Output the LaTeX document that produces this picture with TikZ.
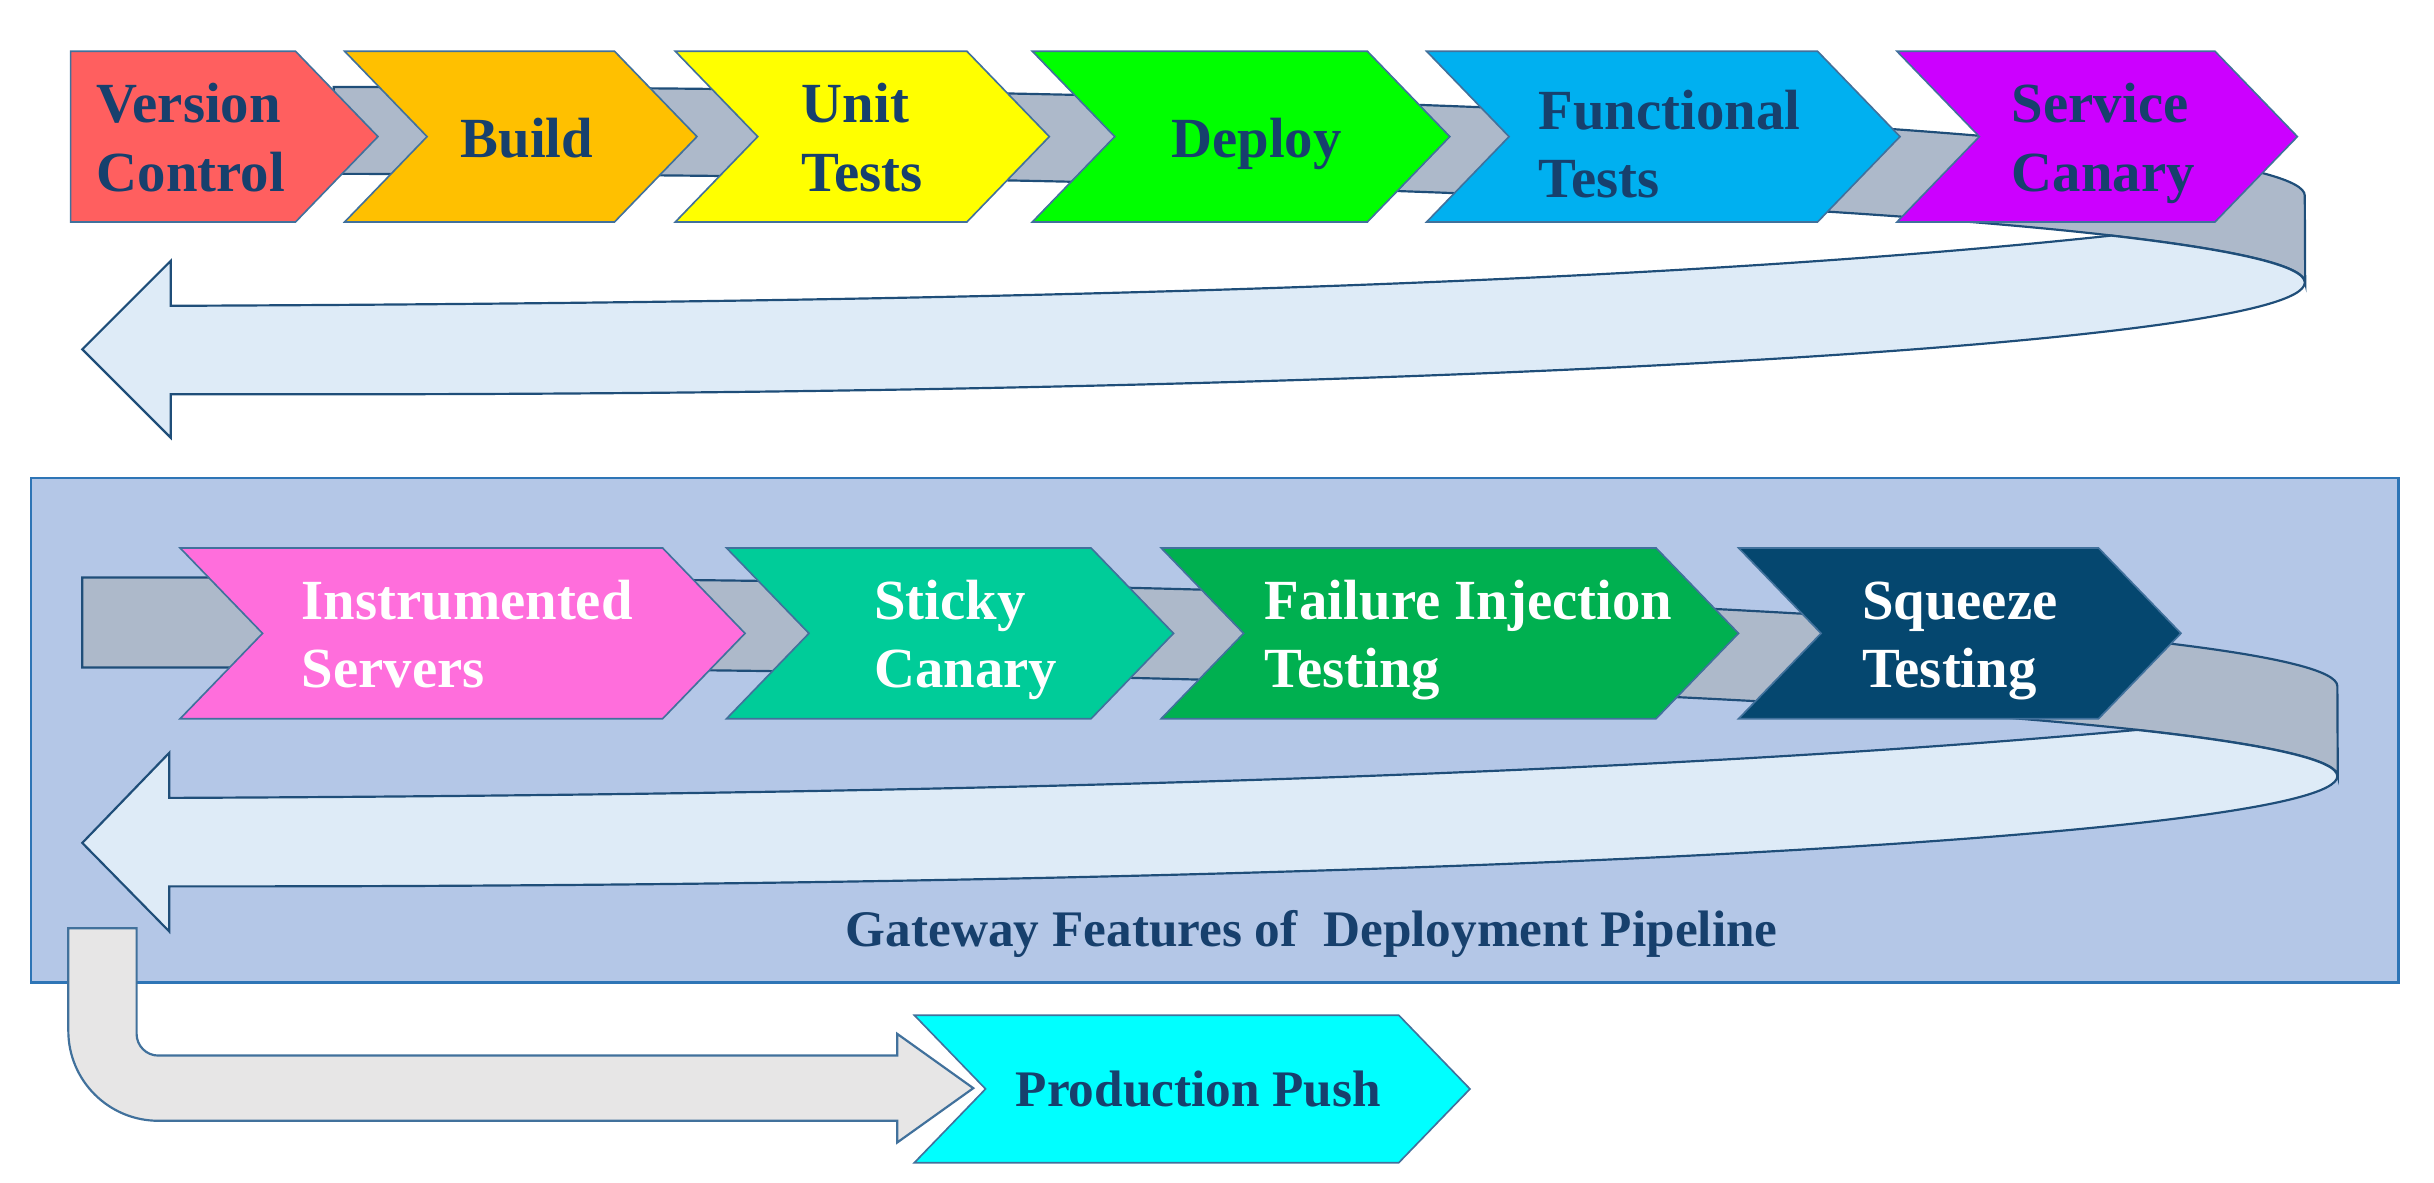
\documentclass[tikz,border=0pt]{standalone}
\usepackage{fontspec}
\setmainfont{Liberation Serif}
\usetikzlibrary{shapes.symbols,calc}

\definecolor{vcred}{HTML}{FF5F5F}
\definecolor{buildorange}{HTML}{FFC000}
\definecolor{unityellow}{HTML}{FFFF00}
\definecolor{deploygreen}{HTML}{00FF00}
\definecolor{funcblue}{HTML}{00B0F0}
\definecolor{canarypurple}{HTML}{CC00FF}
\definecolor{instrpink}{HTML}{FF6EDC}
\definecolor{stickyteal}{HTML}{00CC99}
\definecolor{failgreen}{HTML}{00B050}
\definecolor{squeezeblue}{HTML}{05476F}
\definecolor{pushcyan}{HTML}{00FFFF}
\definecolor{chevline}{HTML}{41719C}
\definecolor{textnavy}{HTML}{17406D}
\definecolor{ribbongray}{HTML}{ADB9CA}
\definecolor{ribbonline}{HTML}{1F4E79}
\definecolor{arrowblue}{HTML}{DEEBF7}
\definecolor{gatefill}{HTML}{B4C7E7}
\definecolor{gateline}{HTML}{2E75B6}
\definecolor{pushgray}{HTML}{E7E6E6}

\newcommand{\stagefont}{\fontsize{20.8}{25}\selectfont\bfseries}
\newcommand{\pushfont}{\fontsize{18.8}{22}\selectfont\bfseries}
% fixed line heights, so every label sits alike
\newcommand{\tallstrut}{\vrule width 0pt height 20pt depth 0pt}
\newcommand{\deepstrut}{\vrule width 0pt height 0pt depth 5pt}

\tikzset{
  stage/.style={signal, signal to=east, signal from=west, signal pointer angle=92,
    draw=chevline, line width=0.6pt, minimum height=2.2cm, inner sep=0pt,
    align=left, font=\stagefont, text=textnavy},
  gatestage/.style={stage, text=white},
  ribbon/.style={fill=ribbongray, draw=ribbonline, line width=0.8pt},
  backarrow/.style={fill=arrowblue, draw=ribbonline, line width=0.8pt},
}

\begin{document}
\begin{tikzpicture}[x=0.02cm, y=0.02cm]
    \useasboundingbox (0,0) rectangle (1568,-762);
    % 
    % top loop
    \coordinate (c1) at (215,-182);
    \draw[ribbon] (215,-56) arc[start angle=90, end angle=0, x radius=25.4cm, y radius=1.4cm]
        -- (1485,-182) arc[start angle=0, end angle=90, x radius=25.4cm, y radius=1.4cm] -- cycle;
    \coordinate (m1) at ($(c1)+(25.6:25.4cm and 1.4cm)$);
    \draw[backarrow] (110,-197) .. controls (600,-195) and (1050,-185) .. (m1)
        arc[start angle=25.6, end angle=0, x radius=25.4cm, y radius=1.4cm]
        arc[start angle=0, end angle=-90, x radius=25.4cm, y radius=1.44cm]
        -- (110,-254) -- (110,-282) -- (53,-225) -- (110,-168) -- cycle;

    \node[stage, signal from=nowhere, fill=vcred, minimum width=3.96cm, anchor=west] (vc) at (45,-88)
        {\tallstrut\hspace*{0.2cm}Version\\\hspace*{0.2cm}Control\deepstrut};
    \node[stage, fill=buildorange, minimum width=4.54cm] (build) at (335.5,-88)
        {\tallstrut\hspace*{0.16cm}Build\deepstrut};
    \node[stage, fill=unityellow, minimum width=4.82cm] (unit) at (555.5,-88)
        {\tallstrut Unit\\Tests\deepstrut};
    \node[stage, fill=deploygreen, minimum width=5.38cm] (deploy) at (799.5,-88)
        {\tallstrut\hspace*{0.4cm}Deploy\deepstrut};
    \node[stage, fill=funcblue, minimum width=6.10cm] (func) at (1071.5,-88)
        {\vrule width 0pt height 25pt\hspace*{0.16cm}Functional\\\hspace*{0.16cm}Tests\deepstrut};
    \node[stage, fill=canarypurple, minimum width=5.16cm] (canary) at (1351,-88)
        {\tallstrut\hspace*{0.16cm}Service\\\hspace*{0.16cm}Canary\deepstrut};

    % gateway box
    \draw[fill=gatefill, draw=gateline, line width=1pt] (20,-308) rectangle (1545,-633);
    \coordinate (c2) at (150,-500);
    \draw[ribbon] (53,-372) -- (150,-372) arc[start angle=90, end angle=0, x radius=27.12cm, y radius=1.4cm]
        -- (1506,-500) arc[start angle=0, end angle=90, x radius=27.12cm, y radius=1.4cm] -- (53,-430) -- cycle;
    \coordinate (m2) at ($(c2)+(25.2:27.12cm and 1.4cm)$);
    \draw[backarrow] (109,-514) .. controls (600,-512) and (1050,-500) .. (m2)
        arc[start angle=25.2, end angle=0, x radius=27.12cm, y radius=1.4cm]
        arc[start angle=0, end angle=-90, x radius=27.12cm, y radius=1.42cm]
        -- (109,-571) -- (109,-600) -- (53,-543) -- (109,-485) -- cycle;

    \node[gatestage, fill=instrpink, minimum width=7.28cm] (instr) at (298,-408)
        {\tallstrut\hspace*{0.12cm}Instrumented\\\hspace*{0.12cm}Servers\deepstrut};
    \node[gatestage, fill=stickyteal, minimum width=5.76cm] (sticky) at (612,-408)
        {\tallstrut\hspace*{0.4cm}Sticky\\\hspace*{0.4cm}Canary\deepstrut};
    \node[gatestage, fill=failgreen, minimum width=7.44cm] (fail) at (934,-408)
        {\tallstrut Failure Injection\hspace*{-0.48cm}\\Testing\deepstrut};
    \node[gatestage, fill=squeezeblue, minimum width=5.70cm] (squeeze) at (1262.5,-408)
        {\tallstrut Squeeze\\Testing\deepstrut};

    \node[font=\pushfont, text=textnavy, anchor=base] (gate) at (845,-610) {Gateway Features of\ \ Deployment Pipeline};

    % out to production
    \draw[fill=pushgray, draw=chevline, line width=0.8pt] (44,-598) -- (88,-598) -- (88,-666)
        arc[start angle=180, end angle=270, radius=0.28cm] -- (578,-680) -- (578,-666) -- (627,-701)
        -- (578,-736) -- (578,-722) -- (102,-722)
        arc[start angle=270, end angle=180, radius=1.16cm] -- cycle;
    \node[stage, fill=pushcyan, minimum width=7.16cm, minimum height=1.9cm, font=\pushfont] (push) at (768,-701.5)
        {\hspace*{0.16cm}Production Push};

\end{tikzpicture}
\end{document}
